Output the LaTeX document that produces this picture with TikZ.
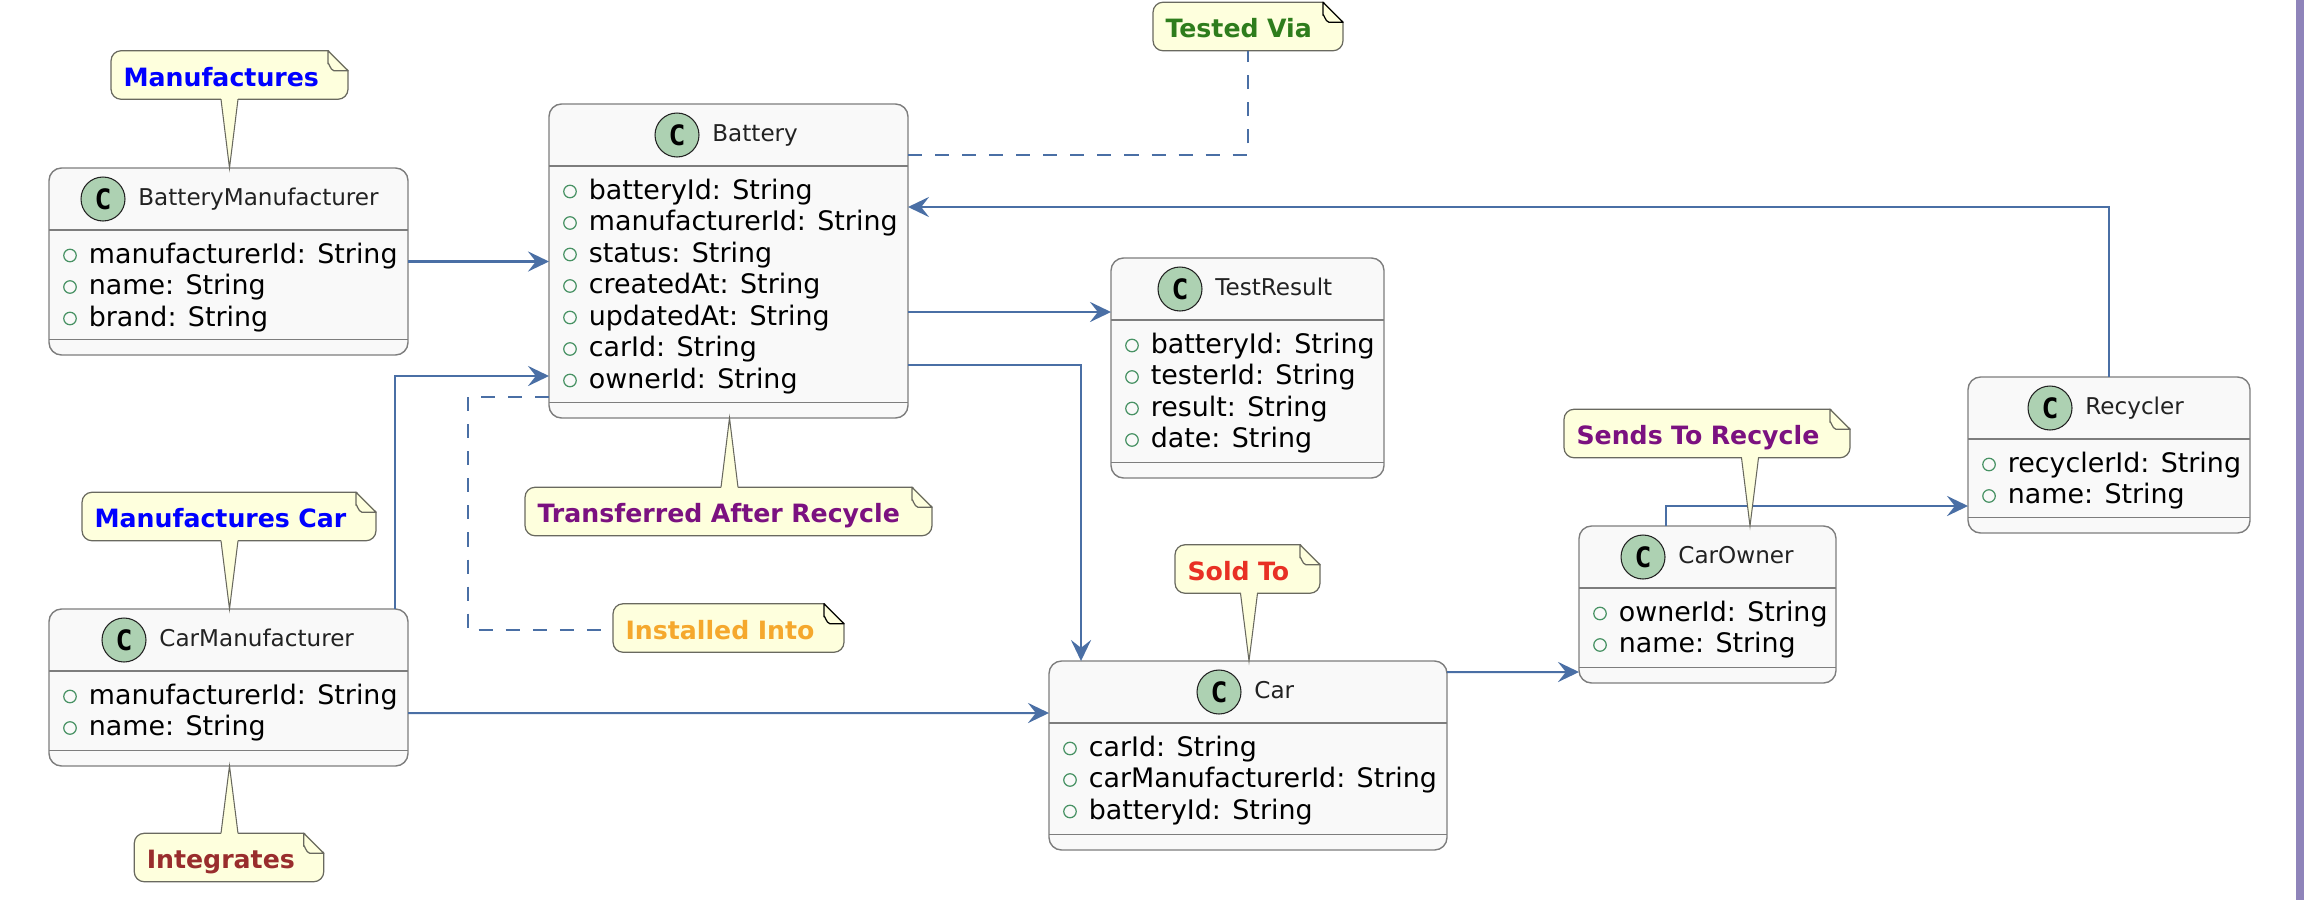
\documentclass[tikz,border=0pt]{standalone}
\usepackage{fontspec}
\setmainfont{DejaVu Sans}
\setmonofont{DejaVu Sans Mono}
\usepackage{tikz}
\usetikzlibrary{arrows.meta, positioning, calc}
\definecolor{linkblue}{RGB}{74,111,165}
\definecolor{boxgrey}{RGB}{125,125,125}
\definecolor{boxfill}{RGB}{249,249,249}
\definecolor{markfill}{RGB}{173,209,178}
\definecolor{plusgreen}{RGB}{72,146,100}
\definecolor{notefill}{RGB}{254,255,221}
\definecolor{noteline}{RGB}{105,105,95}
\definecolor{barpurple}{RGB}{143,132,186}
\definecolor{txtdark}{RGB}{34,34,34}
\definecolor{notepurple}{RGB}{123,17,128}
\definecolor{notebrown}{RGB}{153,45,45}
\definecolor{noteorange}{RGB}{245,168,45}
\definecolor{notegreen}{RGB}{46,125,28}
\definecolor{notered}{RGB}{232,48,36}
% folded corner of a note
\newcommand{\notefold}[2]{
  \fill[white] ($(#1.north east)+(-20,-1.5)$) -- ($(#1.north east)+(1.5,-1.5)$) -- ($(#1.north east)+(1.5,20)$) -- cycle;
  \draw[draw=#2,line width=.7pt,line join=round] ($(#1.north east)+(-20,0)$) -- ($(#1.north east)+(0,20)$) -- ($(#1.north east)+(-14,20)$) to[out=180,in=90] ($(#1.north east)+(-20,13)$) -- cycle;
}
% pointed tail from a note to a class box
\newcommand{\notetail}[3]{
  \coordinate (tip) at ($(#1)+(#3,0)$);
  \coordinate (bs) at (tip |- #2);
  \fill[notefill] ($(bs)+(-8.5,0)$) -- (tip) -- ($(bs)+(8.5,0)$) -- cycle;
  \draw[notefill,line width=.9pt] ($(bs)+(-8.1,0)$) -- ($(bs)+(8.1,0)$);
  \draw[noteline,line width=.6pt] ($(bs)+(-8.5,0)$) -- (tip) -- ($(bs)+(8.5,0)$);
}

\begin{document}
\begin{tikzpicture}[x=0.02cm,y=-0.02cm,
  classbox/.style={draw=boxgrey,fill=boxfill,line width=.8pt,rounded corners=.25cm,inner sep=0pt,outer sep=0pt},
  boxsize/.style 2 args={minimum width=#1*0.02cm,minimum height=#2*0.02cm},
  classmark/.style={circle,draw=txtdark,fill=markfill,line width=.6pt,minimum size=.88cm,inner sep=0pt,
    font=\fontsize{16}{16}\ttfamily\bfseries,text=black},
  classtitle/.style={inner sep=0pt,text=txtdark,font=\fontsize{13.15}{16}\selectfont,text height=10.5pt,text depth=3pt},
  attr/.style={anchor=west,inner sep=0pt,text=black,font=\fontsize{15.3}{18}\selectfont,text height=12pt,text depth=3.5pt},
  attrmark/.style={circle,draw=plusgreen,line width=.7pt,minimum size=.25cm,inner sep=0pt},
  rel/.style={draw=linkblue,line width=1.15pt,-{Stealth[length=12pt,width=11.5pt,inset=4.5pt]}},
  notelink/.style={draw=linkblue,line width=.95pt,dash pattern=on 8pt off 7.4pt},
  note/.style={draw=noteline,fill=notefill,line width=.7pt,rounded corners=.2cm,minimum height=.97cm,
    inner xsep=.25cm,inner ysep=0pt,outer sep=0pt,align=left,font=\fontsize{14.35}{17}\selectfont\bfseries,
    execute at begin node={\rule[-3pt]{0pt}{19pt}}}]
  \useasboundingbox (0,0) rectangle (2304,900);
  \fill[barpurple] (2296,0) rectangle (2304,900);
  % classes
  \node[classbox,boxsize={359}{187}](bm) at (228.5,261.5) {};
  \node[classbox,boxsize={359}{314}](bat) at (728.5,261) {};
  \node[classbox,boxsize={359}{157}](cm) at (228.5,687.5) {};
  \node[classbox,boxsize={273}{220}](tr) at (1247.5,368) {};
  \node[classbox,boxsize={282}{156}](rc) at (2109,455) {};
  \node[classbox,boxsize={257}{157}](co) at (1707.5,604.5) {};
  \node[classbox,boxsize={398}{189}](car) at (1248,755.5) {};
  \foreach \nm/\cx/\ttl/\rows in {
    bm/54/BatteryManufacturer/{manufacturerId: String,name: String,brand: String},
    bat/128/Battery/{batteryId: String,manufacturerId: String,status: String,createdAt: String,updatedAt: String,carId: String,ownerId: String},
    cm/75/CarManufacturer/{manufacturerId: String,name: String},
    tr/69/TestResult/{batteryId: String,testerId: String,result: String,date: String},
    rc/82/Recycler/{recyclerId: String,name: String},
    co/64/CarOwner/{ownerId: String,name: String},
    car/170/Car/{carId: String,carManufacturerId: String,batteryId: String}}{
    \draw[boxgrey,line width=.7pt] ($(\nm.north west)+(0,62)$) -- ($(\nm.north east)+(0,62)$);
    \draw[boxgrey,line width=.7pt] ($(\nm.south west)+(0,-15.5)$) -- ($(\nm.south east)+(0,-15.5)$);
    \node[classmark](\nm C) at ($(\nm.north west)+(\cx,31)$) {C};
    \node[classtitle,right=.25cm of \nm C](\nm T){\ttl};
    \foreach \rw [count=\i] in \rows {
      \node[attrmark](\nm P\i) at ($(\nm.north west)+(21,{87.5+31.5*(\i-1)})$) {};
      \node[attr](\nm A\i) at ($(\nm.north west)+(39.5,{88+31.5*(\i-1)})$) {\rw};
    }
  }
  % relations
  \draw[rel] (bm.east) -- (bm.east -| bat.west);
  \draw[rel] ($(bat.east)+(0,51)$) -- ($(tr.west)+(0,-56)$);
  \draw[rel] ($(bat.east)+(0,104)$) -| ($(car.north)+(-167,0)$);
  \draw[rel] (rc.north) |- ($(bat.east)+(0,-54)$);
  \draw[rel] ($(cm.north)+(166.5,0)$) |- ($(bat.west)+(0,115)$);
  \draw[rel] ($(cm.east)+(0,25.5)$) -- ($(car.west)+(0,-42.5)$);
  \draw[rel] ($(car.east)+(0,-83.5)$) -- ($(co.west)+(0,67.5)$);
  \draw[rel] ($(co.north)+(-41.5,0)$) |- ($(rc.west)+(0,51)$);
  % notes
  \node[note,text=blue,text width=4.24cm](nm) at (229.5,75) {Manufactures};
  \node[note,text=blue,text width=5.38cm](nc) at (229,516.5) {Manufactures Car};
  \node[note,text=notebrown,text width=3.29cm](ni) at (229,857.5) {Integrates};
  \node[note,text=notepurple,text width=7.64cm](nf) at (728.5,511.5) {Transferred After Recycle};
  \node[note,text=noteorange,text width=4.12cm](nt) at (728.5,628) {Installed Into};
  \node[note,text=notegreen,text width=3.3cm](nv) at (1248,26.5) {Tested Via};
  \node[note,text=notered,text width=2.4cm](ns) at (1247.5,569) {Sold To};
  \node[note,text=notepurple,text width=5.22cm](nr) at (1707,433.5) {Sends To Recycle};
  \notefold{nm}{noteline}
  \notefold{nc}{noteline}
  \notefold{ni}{noteline}
  \notefold{nf}{noteline}
  \notefold{nt}{black}
  \notefold{nv}{black}
  \notefold{ns}{noteline}
  \notefold{nr}{noteline}
  \notetail{bm.north}{nm.south}{1}
  \notetail{cm.north}{nc.south}{1}
  \notetail{cm.south}{ni.north}{1}
  \notetail{bat.south}{nf.north}{1}
  \notetail{car.north}{ns.south}{1}
  \notetail{co.north}{nr.south}{42.5}
  \draw[notelink] ($(bat.west)+(0,136)$) -- ++(-81,0) |- ($(nt.west)+(-10,2)$);
  \draw[notelink] ($(bat.east)+(0,-106)$) -| (nv.south);
\end{tikzpicture}
\end{document}
